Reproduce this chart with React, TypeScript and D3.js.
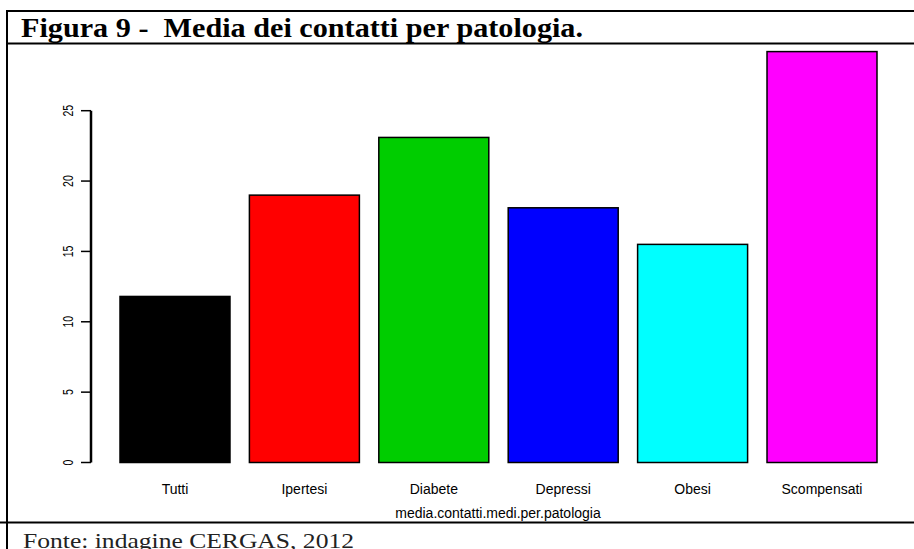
import * as d3 from "d3";
import { useRef, useEffect } from "react";

// dati
const categorie = ["Tutti", "Ipertesi", "Diabete", "Depressi", "Obesi", "Scompensati"];
const valori = [11.8, 19.0, 23.1, 18.1, 15.5, 29.2];
const colori = ["#000000", "#ff0000", "#00cd00", "#0000ff", "#00ffff", "#ff00ff"];
const tickY = [0, 5, 10, 15, 20, 25];

const W = 914;
const H = 549;

const App = () => {
    const ref = useRef<SVGSVGElement>(null);

    useEffect(() => {
        const svg = d3.select(ref.current);
        svg.selectAll("*").remove();

        // cornice della figura
        svg.append("line").attr("x1", 6).attr("x2", W).attr("y1", 11).attr("y2", 11)
            .attr("stroke", "#000").attr("stroke-width", 2);
        svg.append("line").attr("x1", 6).attr("x2", W).attr("y1", 43.5).attr("y2", 43.5)
            .attr("stroke", "#000").attr("stroke-width", 2);
        svg.append("line").attr("x1", 0).attr("x2", W).attr("y1", 522.5).attr("y2", 522.5)
            .attr("stroke", "#000").attr("stroke-width", 2);
        svg.append("line").attr("x1", 7).attr("x2", 7).attr("y1", 10).attr("y2", H)
            .attr("stroke", "#000").attr("stroke-width", 2);

        svg.append("text")
            .attr("x", 21).attr("y", 37)
            .attr("font-family", "Liberation Serif")
            .attr("font-weight", "bold")
            .attr("font-size", 28)
            .attr("textLength", 562)
            .attr("lengthAdjust", "spacingAndGlyphs")
            .attr("xml:space", "preserve")
            .text("Figura 9 -  Media dei contatti per patologia.");

        svg.append("text")
            .attr("x", 23).attr("y", 548)
            .attr("font-family", "Liberation Serif")
            .attr("font-size", 21)
            .attr("textLength", 331)
            .attr("lengthAdjust", "spacingAndGlyphs")
            .attr("fill", "#222")
            .text("Fonte: indagine CERGAS, 2012");

        // scale
        const x = d3.scaleBand<string>()
            .domain(categorie)
            .range([120, 877])
            .paddingInner(0.15)
            .paddingOuter(0);

        const y = d3.scaleLinear()
            .domain([0, 25])
            .range([462.5, 110.7]);

        // barre
        svg.append("g")
            .selectAll("rect")
            .data(valori)
            .enter()
            .append("rect")
            .attr("x", (d, i) => x(categorie[i])!)
            .attr("y", d => y(d))
            .attr("width", x.bandwidth())
            .attr("height", d => y(0) - y(d))
            .attr("fill", (d, i) => colori[i])
            .attr("stroke", "#000")
            .attr("stroke-width", 1.5);

        // asse y
        const ax = svg.append("g").attr("transform", "translate(91,0)");
        ax.append("line").attr("x1", 0).attr("x2", 0)
            .attr("y1", y(0)).attr("y2", y(25))
            .attr("stroke", "#000").attr("stroke-width", 2.5);
        ax.selectAll(".tick")
            .data(tickY)
            .enter()
            .append("line")
            .attr("x1", -10).attr("x2", 0)
            .attr("y1", d => y(d)).attr("y2", d => y(d))
            .attr("stroke", "#000").attr("stroke-width", 1.5);
        ax.selectAll(".lab")
            .data(tickY)
            .enter()
            .append("text")
            .attr("transform", d => `translate(-18,${y(d)}) rotate(-90) scale(0.75,1)`)
            .attr("text-anchor", "middle")
            .attr("font-family", "Liberation Sans")
            .attr("font-size", 14)
            .text(d => d);

        // etichette categorie
        svg.append("g")
            .selectAll("text")
            .data(categorie)
            .enter()
            .append("text")
            .attr("x", d => x(d)! + x.bandwidth() / 2)
            .attr("y", 494)
            .attr("text-anchor", "middle")
            .attr("font-family", "Liberation Sans")
            .attr("font-size", 14)
            .text(d => d);

        svg.append("text")
            .attr("x", 498).attr("y", 518)
            .attr("text-anchor", "middle")
            .attr("font-family", "Liberation Sans")
            .attr("font-size", 14)
            .text("media.contatti.medi.per.patologia");
    }, []);

    return (
        <svg ref={ref} width={W} height={H}
            style={{ position: "absolute", left: 0, top: 0, background: "#fff" }} />
    );
};

export default App;
